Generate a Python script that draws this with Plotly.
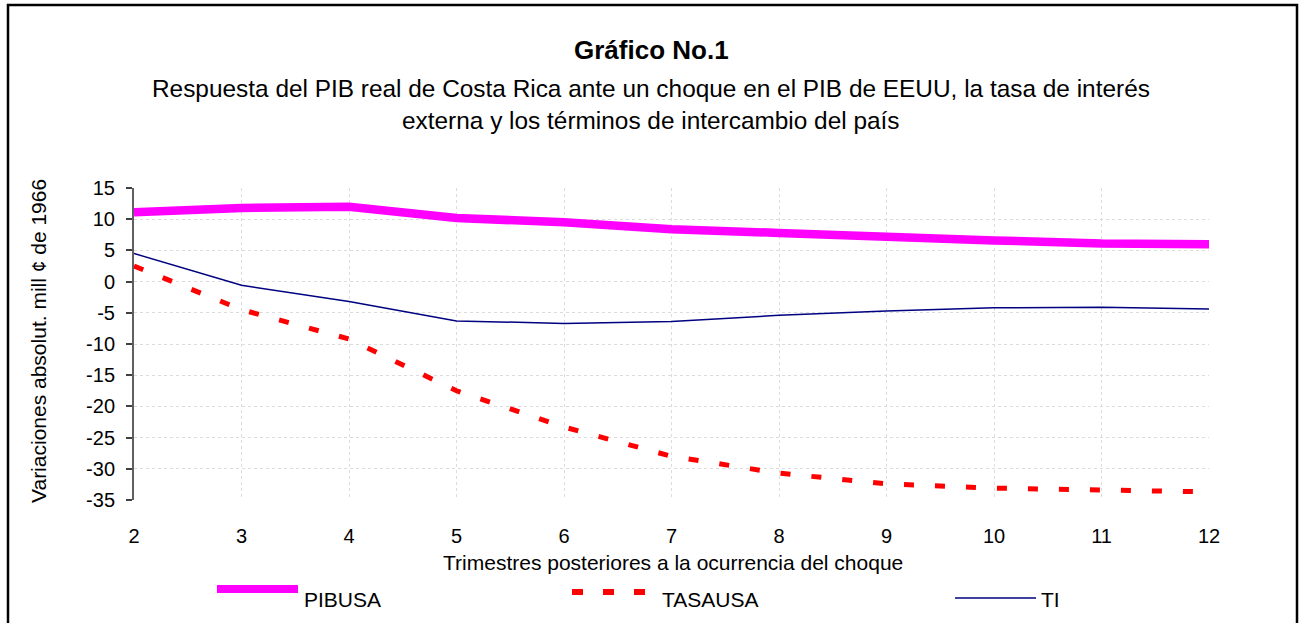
import plotly.graph_objects as go

# ---- data ----
quarters = [2, 3, 4, 5, 6, 7, 8, 9, 10, 11, 12]
pibusa = [11.1, 11.8, 12.0, 10.2, 9.5, 8.4, 7.8, 7.1, 6.6, 6.1, 6.0]
tasausa = [2.5, -4.5, -9.2, -17.5, -23.3, -28.0, -30.7, -32.4, -33.1, -33.5, -33.7]
ti = [4.5, -0.6, -3.2, -6.3, -6.7, -6.4, -5.4, -4.7, -4.2, -4.1, -4.4]
y_ticks = [15, 10, 5, 0, -5, -10, -15, -20, -25, -30, -35]
y_tick_labels = ["15", "10", "5", "0", "-5", "-10", "-15", "-20", "-25", "-30", "-35"]

FONT = "Arial, Liberation Sans, sans-serif"
W, H = 1299, 623
L, R, T, B = 134, 90, 188, 123
PW = W - L - R
PH = H - T - B


def px(x):
    return (x - L) / PW


def py(y):
    return (H - B - y) / PH


fig = go.Figure()
fig.add_trace(go.Scatter(x=quarters, y=pibusa, name="PIBUSA", mode="lines",
                         line=dict(color="#FF00FF", width=8.5), showlegend=False))
fig.add_trace(go.Scatter(x=quarters, y=tasausa, name="TASAUSA", mode="lines",
                         line=dict(color="#FF0000", width=5, dash="10px,21px"), showlegend=False))
fig.add_trace(go.Scatter(x=quarters, y=ti, name="TI", mode="lines",
                         line=dict(color="#000080", width=1.5), showlegend=False))

grid = dict(showgrid=True, gridcolor="#dcdcdc", griddash="dot", gridwidth=1)
tickfont = dict(family=FONT, size=20, color="black")

fig.update_layout(
    width=W, height=H, autosize=False,
    margin=dict(l=L, r=R, t=T, b=B, pad=0),
    paper_bgcolor="white", plot_bgcolor="white",
    font=dict(family=FONT, color="black"),
    xaxis=dict(range=[2, 12], tickvals=quarters, ticks="", showline=False,
               zeroline=False, tickfont=tickfont, ticklabelstandoff=22, **grid),
    xaxis2=dict(range=[2, 12], overlaying="x", anchor="free", position=0.7,
                tickvals=quarters, showline=True, linecolor="#505050", linewidth=2,
                ticks="outside", ticklen=6, tickwidth=2, tickcolor="#404040",
                showticklabels=False, showgrid=False, zeroline=False),
    xaxis3=dict(range=[2, 12], overlaying="x", anchor="free", position=0.7,
                tickvals=quarters, showline=False,
                ticks="inside", ticklen=6, tickwidth=2, tickcolor="#404040",
                showticklabels=False, showgrid=False, zeroline=False),
    yaxis=dict(range=[-35, 15], tickvals=y_ticks, ticktext=y_tick_labels,
               showline=True, linecolor="#606060",
               linewidth=2, ticks="outside", ticklen=6, tickwidth=2, tickcolor="#404040",
               zeroline=False, tickfont=tickfont, ticklabelstandoff=7, **grid),
    yaxis2=dict(range=[-35, 15], overlaying="y", anchor="x", side="left",
                tickvals=y_ticks, ticks="inside", ticklen=7, tickwidth=2,
                tickcolor="#404040", showticklabels=False, showgrid=False,
                showline=False, zeroline=False),
)

ann = []
ann.append(dict(text="<b>Gráfico No.1</b>", x=px(651), y=py(50), xref="paper", yref="paper",
                showarrow=False, font=dict(family=FONT, size=26), xanchor="center", yanchor="middle"))
ann.append(dict(text="Respuesta del PIB real de Costa Rica ante un choque en el PIB de EEUU, la tasa de interés",
                x=px(651), y=py(88), xref="paper", yref="paper", showarrow=False,
                font=dict(family=FONT, size=24.4), xanchor="center", yanchor="middle"))
ann.append(dict(text="externa y los términos de intercambio del país",
                x=px(651), y=py(120), xref="paper", yref="paper", showarrow=False,
                font=dict(family=FONT, size=24.4), xanchor="center", yanchor="middle"))
ann.append(dict(text="Variaciones absolut. mill ¢ de 1966", x=px(38), y=py(505),
                xref="paper", yref="paper", showarrow=False, textangle=-90,
                font=dict(family=FONT, size=21), xanchor="center", yanchor="bottom"))
ann.append(dict(text="Trimestres posteriores a la ocurrencia del choque", x=px(673), y=py(562),
                xref="paper", yref="paper", showarrow=False,
                font=dict(family=FONT, size=21), xanchor="center", yanchor="middle"))
# legend labels
for label, lx in [("PIBUSA", 302), ("TASAUSA", 660), ("TI", 1039)]:
    ann.append(dict(text=label, x=px(lx), y=py(599), xref="paper", yref="paper",
                    showarrow=False, font=dict(family=FONT, size=21),
                    xanchor="left", yanchor="middle"))
fig.update_layout(annotations=ann)

shapes = []
# outer chart frame
shapes.append(dict(type="rect", xref="paper", yref="paper",
                   x0=px(8), x1=px(1297), y0=py(660), y1=py(5),
                   line=dict(color="black", width=2.5), fillcolor="rgba(0,0,0,0)", layer="above"))
# legend symbols
shapes.append(dict(type="line", xref="paper", yref="paper", x0=px(217), x1=px(298),
                   y0=py(589), y1=py(589), line=dict(color="#FF00FF", width=8)))
shapes.append(dict(type="line", xref="paper", yref="paper", x0=px(572), x1=px(645),
                   y0=py(592), y1=py(592), line=dict(color="#FF0000", width=6, dash="11px,20px")))
shapes.append(dict(type="line", xref="paper", yref="paper", x0=px(955), x1=px(1036),
                   y0=py(598), y1=py(598), line=dict(color="#000080", width=1.5)))
fig.update_layout(shapes=shapes)

fig.write_html("out.html", config={"displayModeBar": False},
               post_script="document.body.style.margin='0px';")
